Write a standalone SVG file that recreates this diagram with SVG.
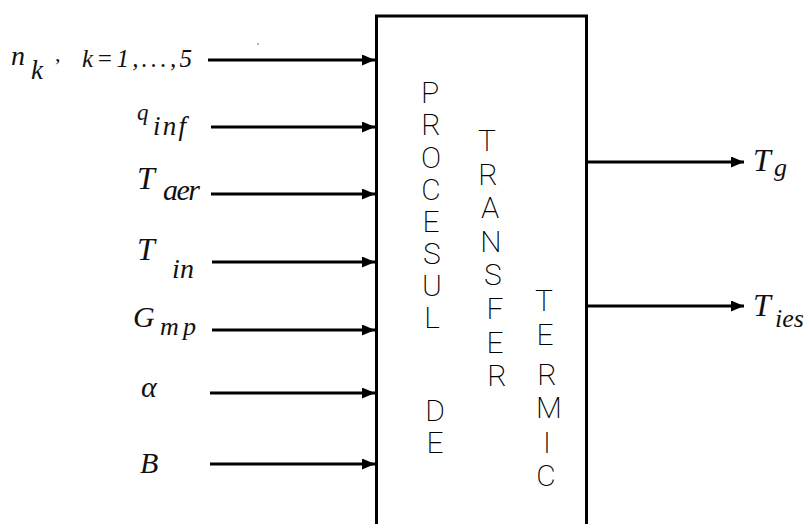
<svg xmlns="http://www.w3.org/2000/svg" width="810" height="524" viewBox="0 0 810 524">
<defs>
<style>
.lbl{font-family:"Liberation Serif","Times New Roman",serif;font-style:italic;fill:#111}
.blk{font-family:Roboto,"Liberation Sans",Arial,sans-serif;font-weight:200;font-size:30px;fill:#000;text-anchor:middle}
.conn{stroke:#000;stroke-width:3;fill:none}
</style>
<marker id="ah" markerUnits="userSpaceOnUse" markerWidth="14" markerHeight="12" refX="13" refY="5.5" orient="auto">
<path d="M0,0 L13,5.5 L0,11 z" fill="#000"/>
</marker>
</defs>
<rect width="810" height="524" fill="#fff"/>
<g id="process">
<rect x="376.5" y="16" width="210" height="520" fill="#fff" stroke="#000" stroke-width="3"/>
<text class="blk"><tspan x="430" y="103">P</tspan><tspan x="431" y="135">R</tspan><tspan x="431" y="168">O</tspan><tspan x="431" y="200">C</tspan><tspan x="431" y="232">E</tspan><tspan x="432" y="264">S</tspan><tspan x="432" y="296">U</tspan><tspan x="432" y="328">L</tspan></text>
<text class="blk"><tspan x="435" y="421">D</tspan><tspan x="435" y="453">E</tspan></text>
<text class="blk"><tspan x="487" y="151">T</tspan><tspan x="488" y="185">R</tspan><tspan x="490" y="218">A</tspan><tspan x="491" y="252">N</tspan><tspan x="493" y="285">S</tspan><tspan x="495" y="319">F</tspan><tspan x="495" y="353">E</tspan><tspan x="497" y="386">R</tspan></text>
<text class="blk"><tspan x="544" y="311">T</tspan><tspan x="545" y="345">E</tspan><tspan x="547" y="385">R</tspan><tspan x="549" y="418">M</tspan><tspan x="547" y="453">I</tspan><tspan x="546" y="486">C</tspan></text>
</g>
<g id="connectors">
<line class="conn" x1="208" y1="60" x2="375" y2="60" marker-end="url(#ah)"/>
<line class="conn" x1="211" y1="127" x2="375" y2="127" marker-end="url(#ah)"/>
<line class="conn" x1="211" y1="194" x2="375" y2="194" marker-end="url(#ah)"/>
<line class="conn" x1="212" y1="262" x2="375" y2="262" marker-end="url(#ah)"/>
<line class="conn" x1="212" y1="330" x2="375" y2="330" marker-end="url(#ah)"/>
<line class="conn" x1="210" y1="393" x2="375" y2="393" marker-end="url(#ah)"/>
<line class="conn" x1="210" y1="464" x2="375" y2="464" marker-end="url(#ah)"/>
<line class="conn" x1="587" y1="162" x2="744" y2="162" marker-end="url(#ah)"/>
<line class="conn" x1="587" y1="306" x2="744" y2="306" marker-end="url(#ah)"/>
</g>
<g id="in-nk">
<text class="lbl" x="11" y="65" font-size="28">n</text>
<text class="lbl" x="31" y="79" font-size="27">k</text>
<text class="lbl" x="55" y="61" font-size="22">,</text>
<text class="lbl" x="82" y="67" font-size="25" textLength="110" lengthAdjust="spacing">k=1,...,5</text>
</g>
<g id="in-qinf">
<text class="lbl" x="137" y="120" font-size="23">q</text>
<text class="lbl" x="153" y="135" font-size="27" textLength="33" lengthAdjust="spacing">inf</text>
</g>
<g id="in-taer">
<text class="lbl" x="137" y="189" font-size="32">T</text>
<text class="lbl" x="163" y="200" font-size="30" textLength="37" lengthAdjust="spacing">aer</text>
</g>
<g id="in-tin">
<text class="lbl" x="137" y="260" font-size="32">T</text>
<text class="lbl" x="172" y="278" font-size="28" textLength="22" lengthAdjust="spacing">in</text>
</g>
<g id="in-gmp">
<text class="lbl" x="133" y="327" font-size="30">G</text>
<text class="lbl" x="160" y="335" font-size="26" textLength="36" lengthAdjust="spacing">mp</text>
</g>
<g id="in-alpha">
<text class="lbl" x="141" y="397" font-size="30">α</text>
</g>
<g id="in-b">
<text class="lbl" x="140" y="473" font-size="30">B</text>
</g>
<g id="out-tg">
<text class="lbl" x="753" y="171" font-size="32">T</text>
<text class="lbl" x="774" y="176" font-size="26">g</text>
</g>
<g id="out-ties">
<text class="lbl" x="753" y="316" font-size="32">T</text>
<text class="lbl" x="775" y="327" font-size="26">ies</text>
</g>
<circle cx="258" cy="44" r="0.8" fill="#555"/>
</svg>
